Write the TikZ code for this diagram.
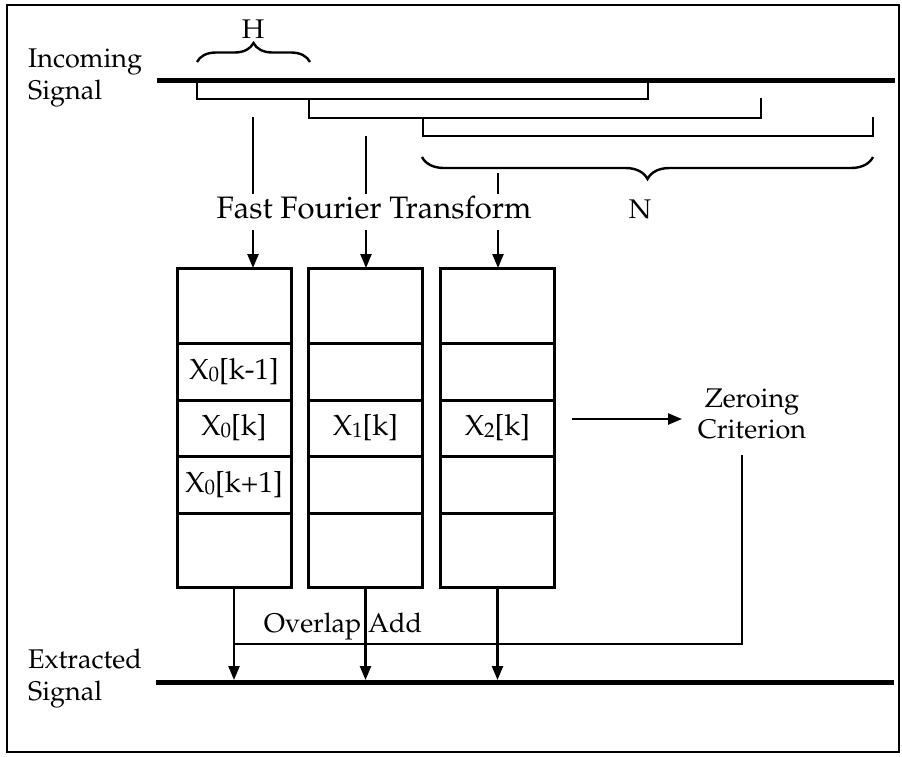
\documentclass[tikz,border=0pt]{standalone}
\usepackage[T1]{fontenc}
\usepackage{mathpazo}
\usetikzlibrary{arrows.meta,decorations.pathreplacing}
\begin{document}
\begin{tikzpicture}[x=1pt,y=-1pt,
  thinline/.style={line width=2.4pt},
  sig/.style={line width=5pt},
  arr/.style={line width=2.4pt,-{Triangle[length=14pt,width=11pt]}},
  cell/.style={draw,line width=3pt,minimum width=114pt,inner sep=0pt,outer sep=0pt},
  celltxt/.style={font=\fontsize{29}{31}\selectfont,inner sep=0pt},
  lbl/.style={font=\fontsize{27}{31}\selectfont,inner sep=0pt},
  fftlbl/.style={font=\fontsize{31}{33}\selectfont,inner sep=0pt},
  brc/.style={decorate,decoration={brace,amplitude=19pt},line width=2.4pt}]
\useasboundingbox (0,0) rectangle (902,756);
\newcommand{\Xs}[1]{X\raisebox{-2pt}{\fontsize{21}{21}\selectfont #1}}
% frame
\draw[line width=1.5pt] (7,5) rectangle (899,752);
% incoming signal
\coordinate (inA) at (157,80);
\coordinate (inB) at (895,80);
\draw[sig] (inA) -- (inB);
\node[lbl,anchor=base west] (inc1) at (28,67) {Incoming};
\node[lbl,anchor=base west] (inc2) at (28,99) {Signal};
% window brackets
\draw[thinline] (197,82) -- (197,99) -- (648,99) -- (648,82);
\draw[thinline] (309,99) -- (309,118) -- (761,118) -- (761,98);
\draw[thinline] (423,118) -- (423,136) -- (873,136) -- (873,117);
% braces
\draw[brc] (197,62) -- (310,62);
\node[lbl,anchor=base] (H) at (253,38) {H};
\draw[brc,decoration={amplitude=22pt}] (873,157) -- (422,157);
\node[lbl,anchor=base] (N) at (640,218) {N};
% FFT
\node[fftlbl,anchor=base] (fft) at (374,218) {Fast Fourier Transform};
\draw[thinline] (253,117) -- (253,194);
\draw[thinline] (366,136) -- (366,194);
\draw[thinline] (498,173) -- (498,194);
% boxes
\foreach \c/\cx in {1/234,2/365.5,3/497.5}{
  \node[cell,minimum height=75pt] (c\c-1) at (\cx,305.5) {};
  \node[cell,minimum height=57pt] (c\c-2) at (\cx,371.5) {};
  \node[cell,minimum height=56pt] (c\c-3) at (\cx,428) {};
  \node[cell,minimum height=57pt] (c\c-4) at (\cx,484.5) {};
  \node[cell,minimum height=74pt] (c\c-5) at (\cx,550) {};
}
\node[celltxt] (l1) at (c1-2) {\Xs{0}[k-1]};
\node[celltxt] (l2) at (c1-3) {\Xs{0}[k]};
\node[celltxt] (l3) at (c1-4) {\Xs{0}[k+1]};
\node[celltxt] (l4) at (c2-3) {\Xs{1}[k]};
\node[celltxt] (l5) at (c3-3) {\Xs{2}[k]};
% arrows into boxes
\coordinate (f1) at (253,230);
\coordinate (f2) at (366,230);
\coordinate (f3) at (498,230);
\draw[arr] (f1) -- (f1 |- c1-1.north);
\draw[arr] (f2) -- (f2 |- c2-1.north);
\draw[arr] (f3) -- (f3 |- c3-1.north);
% zeroing criterion
\node[lbl,anchor=base] (z1) at (752,407) {Zeroing};
\node[lbl,anchor=base] (z2) at (752,438) {Criterion};
\coordinate (za) at (572,419);
\coordinate (zb) at (682,419);
\draw[arr] (za) -- (zb);
\coordinate (zc) at (742,455);
% extracted signal
\coordinate (exA) at (156,682);
\coordinate (exB) at (894,682);
\draw[sig] (exA) -- (exB);
\node[lbl,anchor=base west] (ex1) at (28,668) {Extracted};
\node[lbl,anchor=base west] (ex2) at (28,700) {Signal};
\coordinate (ov) at (234,644);
\draw[thinline] (zc) |- (ov);
\node[lbl,anchor=base] (oa) at (343,632) {Overlap Add};
\draw[arr] (c1-5.south) -- (c1-5.south |- 0,680);
\draw[arr] (c2-5.south) -- (c2-5.south |- 0,680);
\draw[arr] (c3-5.south) -- (c3-5.south |- 0,680);
\end{tikzpicture}
\end{document}
